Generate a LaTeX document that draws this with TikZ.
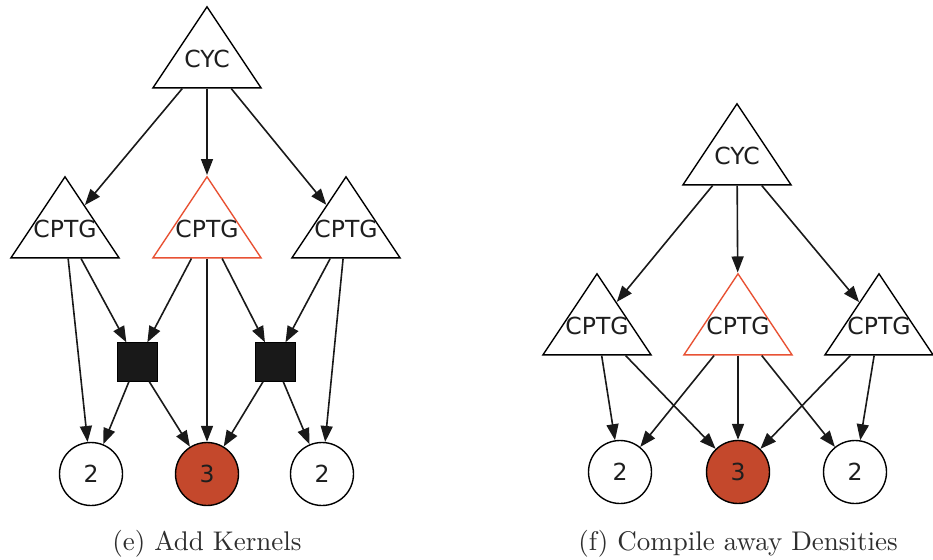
\documentclass[tikz,border=0pt]{standalone}
\usepackage{fontspec}
\newfontfamily\dvs{DejaVu Sans}
\newfontfamily\capfont{lmroman10-regular}[Extension=.otf]
\usetikzlibrary{shapes.geometric,arrows.meta}
\definecolor{redline}{RGB}{232,82,52}
\definecolor{redfill}{RGB}{196,72,44}
\definecolor{txt}{RGB}{30,30,30}
\begin{document}
\begin{tikzpicture}[x=1pt,y=-1pt,
  tri/.style={draw=black, line width=1.4pt, isosceles triangle, isosceles triangle stretches,
    shape border rotate=90, minimum width=108pt, minimum height=81pt, inner sep=0pt, anchor=apex},
  redtri/.style={tri, draw=redline},
  lbl/.style={font=\dvs\fontsize{23.5}{26}\selectfont, text=txt, inner sep=0pt},
  circ/.style={circle, draw=black, line width=1.4pt, minimum size=63pt, inner sep=0pt,
    font=\dvs\fontsize{23.5}{26}\selectfont, text=txt},
  redcirc/.style={circ, fill=redfill},
  kern/.style={rectangle, draw=black, fill=black!90, minimum width=40pt, minimum height=39pt, inner sep=0pt},
  edge/.style={draw=black!90, line width=1.6pt, -{Triangle[length=16pt,width=12pt]}},
  captxt/.style={font=\capfont\fontsize{27}{30}\selectfont, text=black!82, inner sep=0pt, anchor=base}
]
\useasboundingbox (0,0) rectangle (933,559);

% ---------- (e) ----------
\node[tri] (cycE) at (207,5) {};
\node[lbl] (cycEt) at (207,59) {CYC};
\node[tri] (tL) at (65,175) {};
\node[lbl] (tLt) at (65,229) {CPTG};
\node[redtri] (tM) at (207,175) {};
\node[lbl] (tMt) at (207,229) {CPTG};
\node[tri] (tR) at (346,175) {};
\node[lbl] (tRt) at (346,229) {CPTG};
\node[kern] (kL) at (137,362) {};
\node[kern] (kR) at (275,362) {};
\node[circ] (cL) at (91,474) {2};
\node[redcirc] (cM) at (207,474) {3};
\node[circ] (cR) at (322,474) {2};

\draw[edge] (cycE) -- (tL);
\draw[edge] (cycE) -- (tM);
\draw[edge] (cycE) -- (tR);
\draw[edge] (tL) -- (cL);
\draw[edge] (tL) -- (kL);
\draw[edge] (tM) -- (kL);
\draw[edge] (tM) -- (cM);
\draw[edge] (tM) -- (kR);
\draw[edge] (tR) -- (kR);
\draw[edge] (tR) -- (cR);
\draw[edge] (kL) -- (cL);
\draw[edge] (kL) -- (cM);
\draw[edge] (kR) -- (cM);
\draw[edge] (kR) -- (cR);

% ---------- (f) ----------
\node[tri] (cycF) at (737,102) {};
\node[lbl] (cycFt) at (737,156) {CYC};
\node[tri] (fL) at (597,272) {};
\node[lbl] (fLt) at (597,326) {CPTG};
\node[redtri] (fM) at (738,272) {};
\node[lbl] (fMt) at (738,326) {CPTG};
\node[tri] (fR) at (879,272) {};
\node[lbl] (fRt) at (879,326) {CPTG};
\node[circ] (gL) at (620,472) {2};
\node[redcirc] (gM) at (738,472) {3};
\node[circ] (gR) at (855,472) {2};

\draw[edge] (cycF) -- (fL);
\draw[edge] (cycF) -- (fM);
\draw[edge] (cycF) -- (fR);
\draw[edge] (fL) -- (gL);
\draw[edge] (fL) -- (gM);
\draw[edge] (fM) -- (gL);
\draw[edge] (fM) -- (gM);
\draw[edge] (fM) -- (gR);
\draw[edge] (fR) -- (gM);
\draw[edge] (fR) -- (gR);

% ---------- captions ----------
\node[captxt] (capE) at (207,550) {(e) Add Kernels};
\node[captxt] (capF) at (738,550) {(f) Compile away Densities};
\end{tikzpicture}
\end{document}
